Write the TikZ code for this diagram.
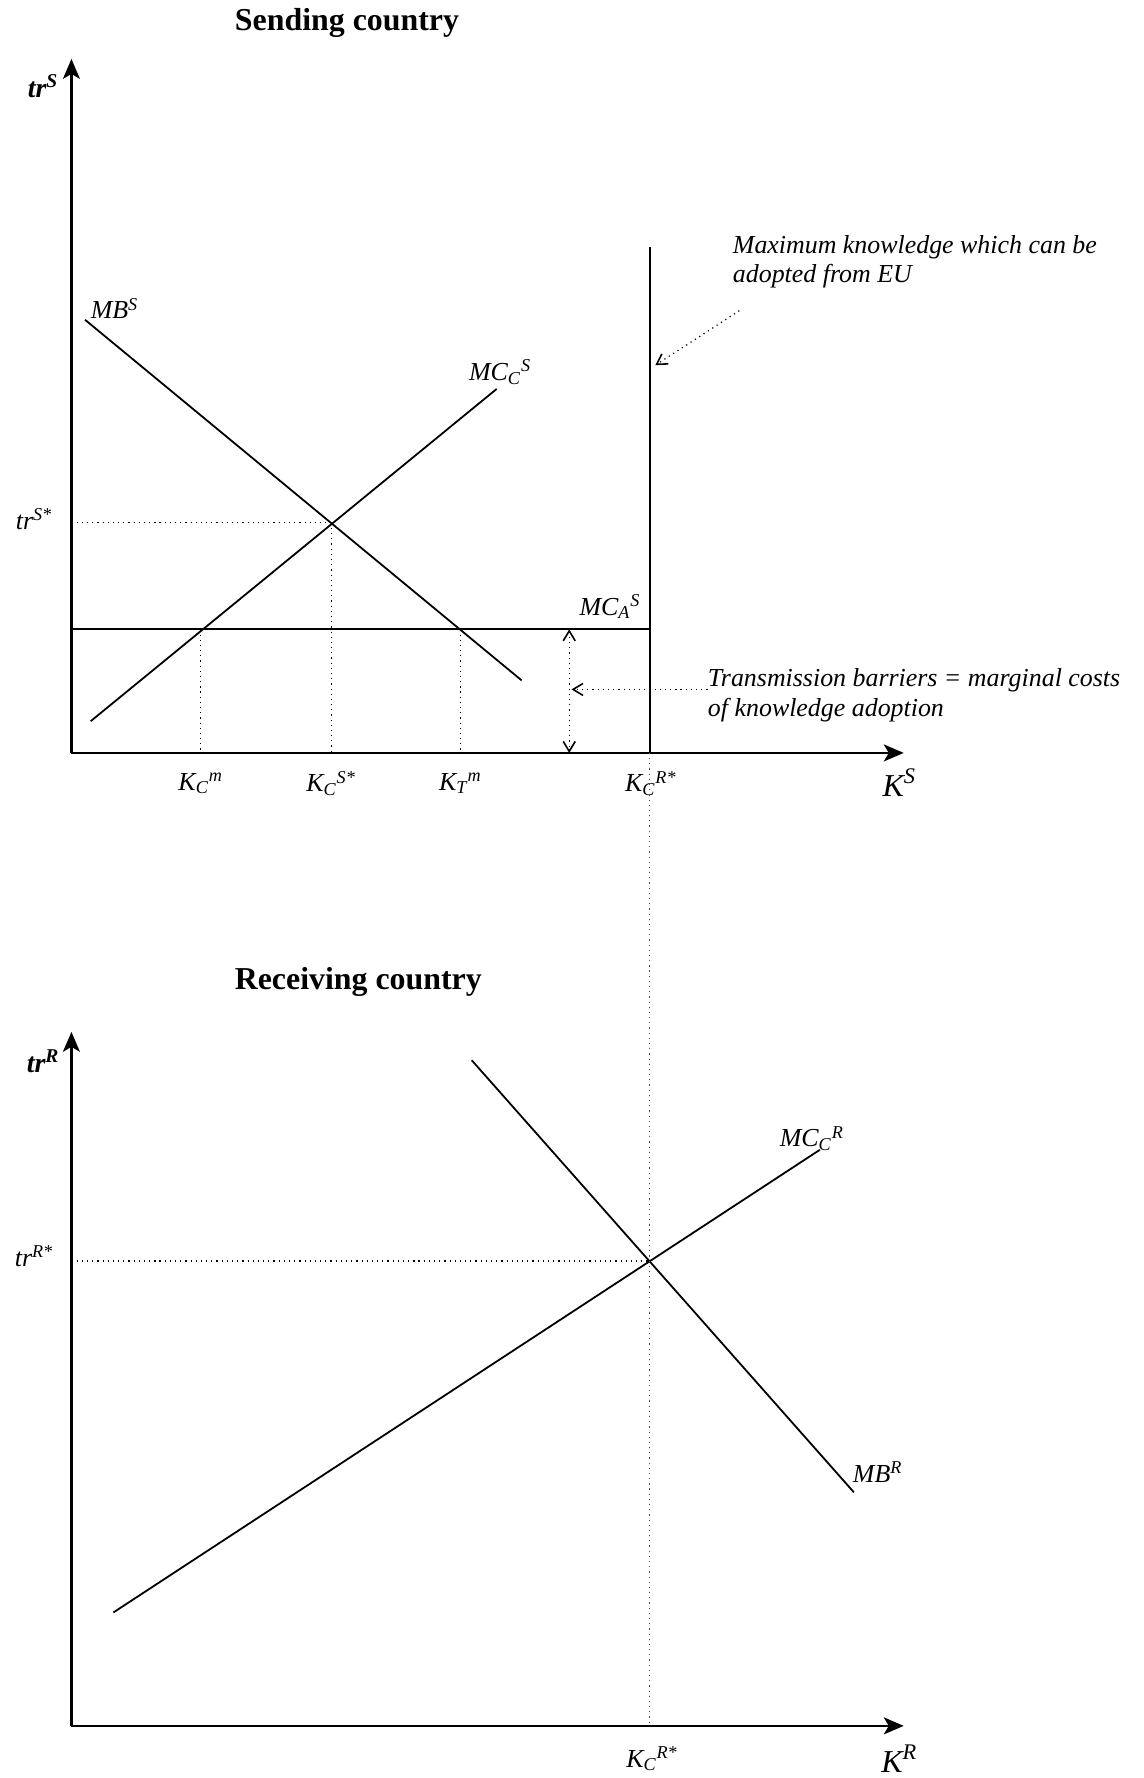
\documentclass[tikz,border=0pt]{standalone}
\usepackage{fontspec}
\setmainfont{Liberation Serif}
\usepackage{tikz}
\usetikzlibrary{arrows.meta,positioning,calc}

\begin{document}
\begin{tikzpicture}[x=0.02cm, y=-0.02cm,
    axis/.style={line width=1.2pt, -{Stealth[length=10pt,width=8.5pt,inset=2.5pt]}},
    curve/.style={line width=0.9pt},
    guide/.style={dotted, line width=0.6pt},
    tip/.style={Straight Barb[length=5pt,width=6pt,line width=0.8pt]},
    note/.style={dotted, line width=0.6pt, -{Straight Barb[length=5pt,width=6pt,line width=0.8pt]}},
    lab/.style={font=\fontsize{13}{15}\selectfont\itshape, inner sep=0pt},
    biglab/.style={font=\fontsize{16}{18}\selectfont\itshape, inner sep=0pt},
    title/.style={font=\fontsize{16}{19}\selectfont\bfseries, inner sep=0pt}]
    \useasboundingbox (0,0) rectangle (1008,1568);

    % Sending country: axes
    \node[title] (titleS) at (306,20) {Sending country};
    \coordinate (oS) at (63,664);
    \coordinate (yS) at (63,52);
    \coordinate (xS) at (797,664);
    \draw[axis] (oS) -- (yS);
    \draw[axis] (oS) -- (xS);
    \node[lab, font=\fontsize{14}{16}\selectfont\bfseries\itshape] (trS) at (38,76) {tr\textsuperscript{S}};
    \node[biglab] (KS) at (793,690) {K\textsuperscript{S}};

    % Marginal benefit and cost curves
    \coordinate (mbS1) at (75,282);
    \coordinate (mbS2) at (460,600);
    \coordinate (mcS1) at (80,636);
    \coordinate (mcS2) at (438,343);
    \draw[curve] (mbS1) -- (mbS2);
    \draw[curve] (mcS1) -- (mcS2);
    \node[lab] (MBS) at (101,272) {MB\textsuperscript{S}};
    \node[lab] (MCCS) at (441,328) {MC\textsubscript{C}\textsuperscript{S}};

    % Equilibrium in sending country
    \coordinate (eqS) at (292,461);
    \draw[guide] (oS |- eqS) -- (eqS);
    \draw[guide] (eqS) -- (eqS |- oS);
    \node[lab] (trSstar) at (30,458) {tr\textsuperscript{S*}};

    % Adoption cost and maximum knowledge
    \coordinate (mcA) at (573,555);
    \coordinate (kmax) at (573,218);
    \draw[curve] (oS |- mcA) -- (mcA);
    \draw[curve] (kmax) -- (mcA |- oS);
    \node[lab] (MCAS) at (538,535) {MC\textsubscript{A}\textsuperscript{S}};
    \draw[guide] (177,555) -- (177,664);
    \draw[guide] (406,555) -- (406,664);

    % Labels on K axis
    \node[lab] (KCm) at (177,691) {K\textsubscript{C}\textsuperscript{m}};
    \node[lab] (KCSstar) at (292,691) {K\textsubscript{C}\textsuperscript{S*}};
    \node[lab] (KTm) at (406,691) {K\textsubscript{T}\textsuperscript{m}};
    \node[lab] (KCRstar) at (574,691) {K\textsubscript{C}\textsuperscript{R*}};

    % Notes with arrows
    \node[lab, anchor=north west, align=left] (maxnote) at (646,207)
        {Maximum knowledge which can be\\adopted from EU};
    \coordinate (maxtip) at (578,322);
    \draw[note] (652,274) -- (maxtip);
    \coordinate (barTop) at (502,555);
    \coordinate (barBot) at (502,664);
    \draw[guide, {Straight Barb[length=5pt,width=6pt,line width=0.8pt]}-{Straight Barb[length=5pt,width=6pt,line width=0.8pt]}] (barTop) -- (barBot);
    \node[lab, anchor=north west, align=left] (barnote) at (624,589)
        {Transmission barriers = marginal costs\\of knowledge adoption};
    \draw[note] (barnote.west |- 0,608) -- (504,608);

    % Receiving country: axes
    \node[title] (titleR) at (316,866) {Receiving country};
    \coordinate (oR) at (63,1522);
    \coordinate (yR) at (63,910);
    \coordinate (xR) at (797,1522);
    \draw[axis] (oR) -- (yR);
    \draw[axis] (oR) -- (xR);
    \node[lab, font=\fontsize{14}{16}\selectfont\bfseries\itshape] (trR) at (38,936) {tr\textsuperscript{R}};
    \node[biglab] (KR) at (793,1551) {K\textsuperscript{R}};

    % Curves in receiving country
    \coordinate (mbR1) at (416,935);
    \coordinate (mbR2) at (753,1316);
    \coordinate (mcR1) at (100,1422);
    \coordinate (mcR2) at (723,1014);
    \draw[curve] (mbR1) -- (mbR2);
    \draw[curve] (mcR1) -- (mcR2);
    \node[lab] (MCCR) at (716,1004) {MC\textsubscript{C}\textsuperscript{R}};
    \node[lab] (MBR) at (774,1298) {MB\textsuperscript{R}};

    % Equilibrium in receiving country
    \coordinate (eqR) at (573,1112);
    \draw[guide] (oR |- eqR) -- (eqR);
    \draw[guide, black!70] (mcA |- oS) -- (eqR |- oR);
    \node[lab] (trRstar) at (30,1108) {tr\textsuperscript{R*}};
    \node[lab] (KCRstarB) at (575,1551) {K\textsubscript{C}\textsuperscript{R*}};
\end{tikzpicture}
\end{document}
